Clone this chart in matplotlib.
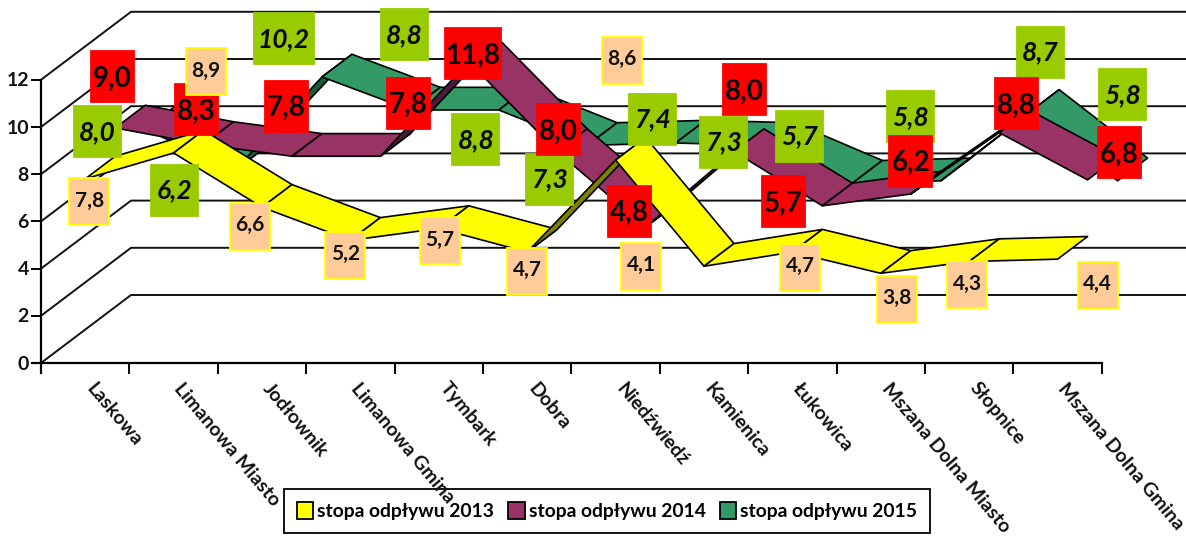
"""3D ribbon line chart of outflow rates per commune, oblique projection by hand."""

import matplotlib
matplotlib.use("Agg")
import matplotlib.pyplot as plt
from matplotlib.patches import Patch, Polygon, Rectangle

plt.rcParams["font.family"] = ["Lato", "DejaVu Sans"]

CATEGORIES = ["Laskowa", "Limanowa Miasto", "Jodłownik", "Limanowa Gmina", "Tymbark", "Dobra",
              "Niedźwiedź", "Kamienica", "Łukowica", "Mszana Dolna Miasto", "Słopnice", "Mszana Dolna Gmina"]
RATE_2013 = [7.8, 8.9, 6.6, 5.2, 5.7, 4.7, 8.6, 4.1, 4.7, 3.8, 4.3, 4.4]
RATE_2014 = [9.0, 8.3, 7.8, 7.8, 11.8, 8.0, 4.8, 8.0, 5.7, 6.2, 8.8, 6.8]
RATE_2015 = [8.0, 6.2, 10.2, 8.8, 8.8, 7.3, 7.4, 7.3, 5.7, 5.8, 8.7, 5.8]
SERIES_NAMES = ["stopa odpływu 2013", "stopa odpływu 2014", "stopa odpływu 2015"]
Y_TICKS = [0, 2, 4, 6, 8, 10, 12]

# data label offsets from the ribbon's front edge, px
OFFSETS_2013 = [(4, 23), (32, -81), (-12, 19), (-5, 15), (1, 12), (0, 19),
                (6, -100), (-63, 0), (8, 15), (16, 26), (-2, 23), (40, 26)]
OFFSETS_2014 = [(-3, -51), (-7, -35), (-6, -50), (28, -53), (4, -8), (1, -22),
                (-16, -16), (10, -62), (-39, -4), (0, -33), (17, -29), (32, -27)]
OFFSETS_2015 = [(-48, 3), (-59, 19), (-38, -38), (-6, -75), (-23, 30), (-38, 34),
                (-23, -24), (-41, -3), (-53, -47), (-30, -64), (11, -60), (5, -86)]

X0, Y0 = 41.0, 363.0
STEP_X, STEP_Y = 88.4, 23.6
DEPTH_X, DEPTH_Y = 90.0, -68.0


def project(pos, value, depth):
    return X0 + STEP_X * pos + DEPTH_X * depth, Y0 - STEP_Y * value + DEPTH_Y * depth


def ribbon(ax, values, d0, d1, color, under_color):
    for i in range(len(values) - 1):
        a = project(i + 0.5, values[i], d0)
        b = project(i + 1.5, values[i + 1], d0)
        c = project(i + 1.5, values[i + 1], d1)
        d = project(i + 0.5, values[i], d1)
        # rising steeper than the depth direction shows the underside
        cross = (b[0] - a[0]) * (d[1] - a[1]) - (b[1] - a[1]) * (d[0] - a[0])
        face = color if cross < 0 else under_color
        ax.add_patch(Polygon([a, b, c, d], closed=True, facecolor=face, edgecolor="black",
                             linewidth=1.2, joinstyle="round", zorder=3))


def labels(ax, values, offsets, depth, fill, edge, size, text_dy, style, zorder):
    for i, (v, (dx, dy)) in enumerate(zip(values, offsets)):
        x, y = project(i + 0.5, v, depth)
        x, y = x + dx, y + dy
        text = f"{v:.1f}".replace(".", ",")
        w, h = size
        if v >= 10:
            w += 13
        ax.add_patch(Rectangle((x - w / 2, y - h / 2), w, h, facecolor=fill, edgecolor=edge,
                               linewidth=1.3, zorder=zorder))
        ax.text(x, y + text_dy, text, ha="center", va="center", zorder=zorder + 0.1, **style)


fig = plt.figure(figsize=(11.86, 5.4), dpi=100)
ax = fig.add_axes([0, 0, 1, 1])
ax.set_xlim(0, 1186)
ax.set_ylim(540, 0)
ax.axis("off")

right_pos = len(CATEGORIES)
for t in Y_TICKS:
    fx, fy = project(0, t, 0)
    bx, by = project(0, t, 1)
    ex, _ = project(right_pos, t, 1)
    ax.plot([fx, bx, ex], [fy, by, by], color="#111111", lw=1.4, zorder=1, solid_joinstyle="miter")
    ax.plot([fx - 9, fx], [fy, fy], color="black", lw=1.4, zorder=2)
    ax.text(fx - 12, fy + 1, str(t), ha="right", va="center", fontsize=14, fontweight="bold", color="#111111")

x_end, _ = project(right_pos, 0, 0)
ax.plot([X0 - 9, x_end], [Y0, Y0], color="black", lw=1.6, zorder=2)
ax.plot([X0, X0], [project(0, 12, 0)[1], Y0 + 10], color="black", lw=1.6, zorder=2)
for i in range(len(CATEGORIES) + 1):
    tx, _ = project(i, 0, 0)
    ax.plot([tx, tx], [Y0, Y0 + 10], color="black", lw=1.4, zorder=2)

ribbon(ax, RATE_2015, 2 / 3, 1, "#339966", "#1c5a3c")
ribbon(ax, RATE_2014, 1 / 3, 2 / 3, "#993366", "#4a1a38")
ribbon(ax, RATE_2013, 0, 1 / 3, "#ffff00", "#808000")

labels(ax, RATE_2015, OFFSETS_2015, 2 / 3, "#99cc00", "#99cc00", (47, 51), 0,
       dict(fontsize=19, fontweight="bold", fontstyle="italic", color="#0a0a0a"), 6)
labels(ax, RATE_2014, OFFSETS_2014, 1 / 3, "#ff0000", "#ff0000", (43, 51), 2,
       dict(fontsize=20, fontweight="bold", color="#0a0a0a"), 7)
labels(ax, RATE_2013, OFFSETS_2013, 0, "#ffcc99", "#ffff00", (40, 47), -1,
       dict(fontsize=15, fontweight="bold", color="#111111"), 8)

handles = [Patch(facecolor=c, edgecolor="black", linewidth=1.3) for c in ("#ffff00", "#993366", "#339966")]
leg = ax.legend(handles, SERIES_NAMES, ncol=3, loc="center", bbox_to_anchor=(607, 511),
                bbox_transform=ax.transData, frameon=True, fancybox=False,
                edgecolor="black", facecolor="white", framealpha=1, handlelength=0.85,
                handleheight=1.0, handletextpad=0.2, columnspacing=0.75, borderpad=0.65,
                prop=dict(size=13.9, weight="bold"))
leg.set_zorder(9)
leg.get_frame().set_linewidth(1.3)

for i, name in enumerate(CATEGORIES):
    tx, _ = project(i + 0.5, 0, 0)
    ax.text(tx + 4, Y0 + 22, name, rotation=-50, rotation_mode="anchor", ha="left", va="center",
            fontsize=14, fontweight="bold", color="#111111", zorder=10)

fig.savefig("out.png", dpi=100)
plt.close(fig)
